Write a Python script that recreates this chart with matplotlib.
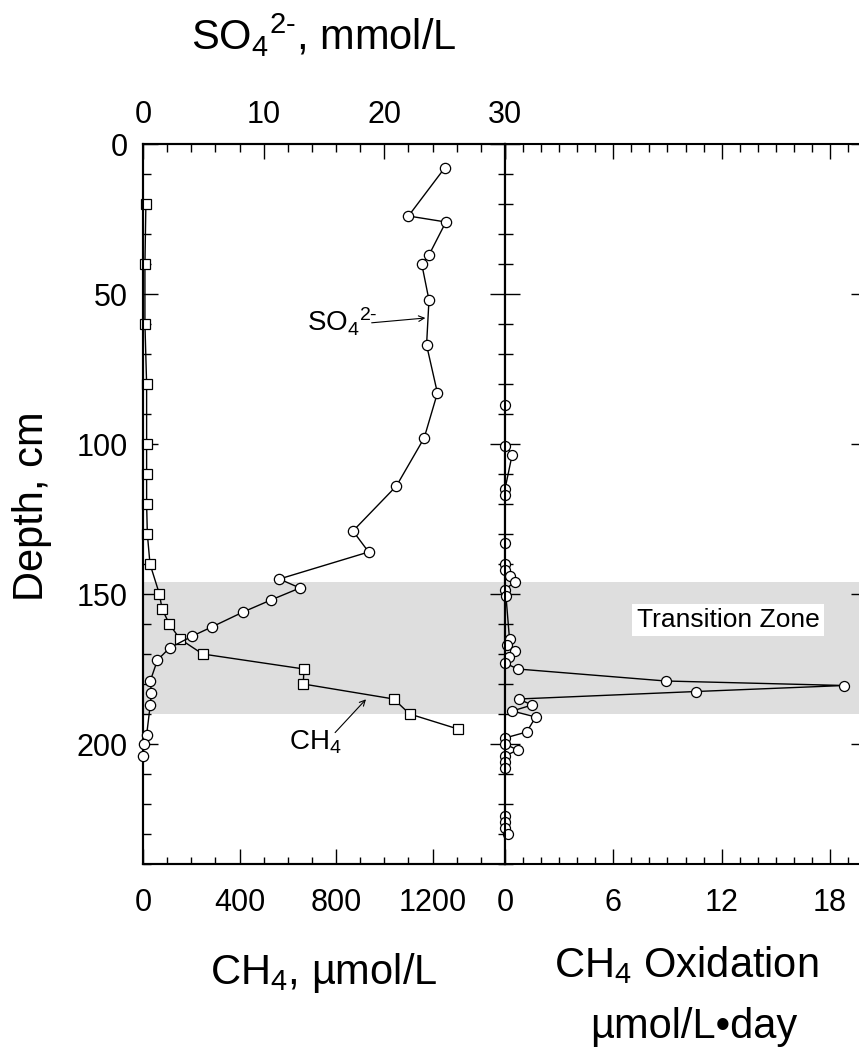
import matplotlib
matplotlib.use('Agg')
import matplotlib.pyplot as plt
from matplotlib.ticker import MultipleLocator

plt.rcParams['font.family'] = ['Liberation Sans', 'DejaVu Sans']
plt.rcParams['mathtext.fontset'] = 'custom'
plt.rcParams['mathtext.rm'] = 'Liberation Sans'
plt.rcParams['mathtext.it'] = 'Liberation Sans:italic'
plt.rcParams['mathtext.default'] = 'regular'

# sulfate profile, mmol/L
so4_depth = [8, 24, 26, 37, 40, 52, 67, 83, 98, 114, 129, 136, 145, 148, 152,
             156, 161, 164, 168, 172, 179, 183, 187, 197, 200, 204]
so4_conc = [25.0, 22.0, 25.1, 23.7, 23.1, 23.7, 23.5, 24.4, 23.3, 21.0, 17.4,
            18.7, 11.3, 13.0, 10.6, 8.3, 5.7, 4.1, 2.2, 1.2, 0.6, 0.7, 0.6,
            0.3, 0.1, 0.0]

# methane profile, umol/L
ch4_depth = [20, 40, 60, 80, 100, 110, 120, 130, 140, 150, 155, 160, 165, 170,
             175, 180, 185, 190, 195]
ch4_conc = [12, 8, 8, 15, 15, 15, 15, 18, 29, 68, 79, 109, 153, 247, 667, 664,
            1039, 1105, 1305]

# methane oxidation rate, umol/L/day
ox_depth = [87, 100.5, 103.5, 115, 117, 133, 140, 142, 144, 146, 148.5, 150.5,
            165, 167, 169, 171, 173, 175, 179, 180.5, 182.5, 185, 187, 189, 191,
            196, 198, 200, 202, 204, 206, 208, 224, 226, 228, 230]
ox_rate = [0, 0, 0.4, 0, 0, 0, 0, 0, 0.3, 0.55, 0, 0.05, 0.25, 0.1, 0.55, 0.2,
           0, 0.7, 8.9, 18.8, 10.6, 0.75, 1.5, 0.4, 1.7, 1.2, 0, 0, 0.7, 0, 0,
           0, 0, 0, 0, 0.15]

zone = (146, 190)
so4_lbl = r'SO$_4{}^{2\text{-}}$'

W, H = 859, 1054
fig = plt.figure(figsize=(W / 100, H / 100), dpi=100)
ax = fig.add_axes([143 / W, 1 - 864 / H, 362 / W, 720 / H])
ax2 = fig.add_axes([505 / W, 1 - 864 / H, 361 / W, 720 / H])
top = ax.twiny()


def ticks(a):
    a.tick_params(which='both', direction='in', width=1.0, labelsize=22)
    a.tick_params(which='major', length=10.8)
    a.tick_params(which='minor', length=5.4)
    for s in a.spines.values():
        s.set_linewidth(1.5)


for a in (ax, ax2, top):
    ticks(a)

# left panel: CH4 bottom, SO4 top
ax.set_xlim(0, 1500)
ax.set_ylim(240, 0)
ax.xaxis.set_major_locator(MultipleLocator(400))
ax.xaxis.set_minor_locator(MultipleLocator(100))
ax.yaxis.set_major_locator(MultipleLocator(50))
ax.yaxis.set_minor_locator(MultipleLocator(10))
ax.tick_params(which='both', bottom=True, top=False, left=True, right=True)
ax.tick_params(axis='x', pad=17)
ax.tick_params(axis='y', pad=11)
ax.set_xticks([0, 400, 800, 1200])

top.set_xlim(0, 30)
top.xaxis.set_major_locator(MultipleLocator(10))
top.xaxis.set_minor_locator(MultipleLocator(2))
top.tick_params(which='both', top=True, bottom=False)
top.tick_params(axis='x', pad=10)

ax.axhspan(zone[0], zone[1], color='#dedede', zorder=0, lw=0)
ax.plot(ch4_conc, ch4_depth, '-s', color='black', mfc='white', mec='black',
        ms=6.5, mew=0.9, lw=1.0, clip_on=False, zorder=3)
top.plot(so4_conc, so4_depth, '-o', color='black', mfc='white', mec='black',
         ms=7.4, mew=0.9, lw=1.0, clip_on=False, zorder=3)

top.annotate('', xy=(23.4, 58), xytext=(18.95, 59.6),
             arrowprops=dict(arrowstyle='->', lw=0.8, color='black',
                             shrinkA=0, shrinkB=0))
top.text(13.6, 62.5, so4_lbl, fontsize=20, va='baseline', ha='left')
ax.annotate('', xy=(924, 185.1), xytext=(796, 196.2),
            arrowprops=dict(arrowstyle='->', lw=0.8, color='black',
                            shrinkA=0, shrinkB=0))
ax.text(605, 202, r'CH$_4$', fontsize=20, va='baseline', ha='left')

# right panel: oxidation rate
ax2.set_xlim(0, 20)
ax2.set_ylim(240, 0)
ax2.xaxis.set_major_locator(MultipleLocator(6))
ax2.xaxis.set_minor_locator(MultipleLocator(1))
ax2.yaxis.set_major_locator(MultipleLocator(50))
ax2.yaxis.set_minor_locator(MultipleLocator(10))
ax2.tick_params(which='both', bottom=True, top=True, left=True, right=True,
                labelleft=False)
ax2.tick_params(axis='x', pad=17)
ax2.axhspan(zone[0], zone[1], color='#dedede', zorder=0, lw=0)
ax2.plot(ox_rate, ox_depth, '-o', color='black', mfc='white', mec='black',
         ms=7.2, mew=0.9, lw=1.0, clip_on=False, zorder=3)
ax2.text(12.35, 161, 'Transition Zone', fontsize=19, ha='center', va='baseline',
         bbox=dict(facecolor='white', edgecolor='none', pad=3))

fig.text(324 / W, 1 - 50 / H, so4_lbl + ', mmol/L', fontsize=30,
         ha='center', va='baseline')
fig.text(324 / W, 1 - 984 / H, r'CH$_4$, µmol/L', fontsize=30,
         ha='center', va='baseline')
fig.text(686 / W, 1 - 977 / H, r'CH$_4$ Oxidation', fontsize=30,
         ha='center', va='baseline')
fig.text(694 / W, 1 - 1038 / H, 'µmol/L•day', fontsize=30,
         ha='center', va='baseline')
fig.text(32 / W, 1 - 506 / H, 'Depth, cm', fontsize=30, rotation=90,
         ha='center', va='center')

fig.savefig('out.png', dpi=100)
